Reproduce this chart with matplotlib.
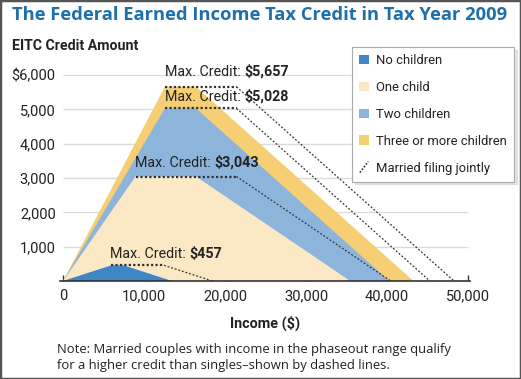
import matplotlib
matplotlib.use("Agg")
import matplotlib.pyplot as plt
import matplotlib.font_manager as fm
from matplotlib.patches import Patch, Rectangle
from matplotlib.lines import Line2D
from matplotlib.legend_handler import HandlerBase

# ---------------- data ----------------
series = ["No children", "One child", "Two children", "Three or more children"]
max_credit = [457, 3043, 5028, 5657]
phase_in_end = [5970, 8950, 12570, 12570]
phaseout_start_single = [7470, 16420, 16420, 16420]
phaseout_end_single = [13440, 35463, 40295, 43279]
phaseout_start_married = [12470, 21420, 21420, 21420]
phaseout_end_married = [18440, 40463, 45295, 48279]
label_values = ["$457", "$3,043", "$5,028", "$5,657"]
x_ticks = [0, 10000, 20000, 30000, 40000, 50000]
x_tick_labels = ["0", "10,000", "20,000", "30,000", "40,000", "50,000"]
y_ticks = [1000, 2000, 3000, 4000, 5000, 6000]
y_tick_labels = ["1,000", "2,000", "3,000", "4,000", "5,000", "$6,000"]

colors = ["#3f86c6", "#fbe8c4", "#8db5db", "#f6ce73"]

# ---------------- fonts ----------------
FR = fm.FontProperties(family="Roboto")
FB = fm.FontProperties(family="Roboto", weight="bold")


def fp(base, size):
    p = base.copy()
    p.set_size(size)
    return p


# ---------------- figure ----------------
fig = plt.figure(figsize=(5.21, 3.79), dpi=100)
ax = fig.add_axes([0.1148, 0.2586, 0.788, 0.5707])
ax.set_xlim(-400, 50300)
ax.set_ylim(0, 6300)

# gridlines
ax.hlines(y_ticks, 0, 50000, colors="#dcdcdc", lw=1, zorder=1)

# filled areas (largest first)
for i in [3, 2, 1, 0]:
    xs = [0, phase_in_end[i], phaseout_start_single[i], phaseout_end_single[i]]
    ys = [0, max_credit[i], max_credit[i], 0]
    ax.fill(xs, ys, color=colors[i], lw=0, zorder=2 + (3 - i))

# married filing jointly dotted lines
for i in range(4):
    ax.plot([phase_in_end[i], phaseout_start_married[i]], [max_credit[i], max_credit[i]],
            color="#333333", lw=1.6, ls=(0, (1, 1)), zorder=7)
    ax.plot([phaseout_start_married[i], phaseout_end_married[i]], [max_credit[i], 0],
            color="#333333", lw=0.9, ls=(0, (1.5, 1.5)), zorder=7)

# labels
label_pos = [(5800, 790), (8900, 3440), (12550, 5360), (12550, 6090)]
for i in range(4):
    t1 = ax.text(label_pos[i][0], label_pos[i][1], "Max. Credit: ", fontproperties=fp(FR, 10.3),
                 va="center", ha="left", color="#222222", zorder=8)
    ax.annotate(label_values[i], xy=(1, 0), xycoords=t1, va="bottom", ha="left",
                fontproperties=fp(FB, 10.3), color="#222222", zorder=8)

# axes styling
for s in ["top", "right", "left"]:
    ax.spines[s].set_visible(False)
ax.spines["bottom"].set_color("#333333")
ax.spines["bottom"].set_linewidth(1.2)
ax.spines["bottom"].set_zorder(9)
ax.set_xticks(x_ticks)
ax.set_xticklabels(x_tick_labels, fontproperties=fp(FR, 10.5), color="#222222")
ax.set_yticks(y_ticks)
ax.set_yticklabels(y_tick_labels, fontproperties=fp(FR, 10.5), color="#222222")
ax.tick_params(axis="x", direction="in", length=4, width=1, color="#333333", pad=6)
ax.tick_params(axis="y", length=0, pad=3)
ax.set_facecolor("none")


# legend
class DiagHandler(HandlerBase):
    def create_artists(self, legend, orig_handle, xdescent, ydescent, width, height, fontsize, trans):
        cx = width / 2 - xdescent
        cy = height / 2 - ydescent
        ln = Line2D([cx - 3, cx + 3], [cy - 4, cy + 4], color="#333333", lw=1.2,
                    ls=(0, (1, 1)), transform=trans)
        return [ln]


handles = [Patch(facecolor=colors[i], edgecolor="none") for i in range(4)]
married_handle = Line2D([], [])
handles.append(married_handle)
labels = series + ["Married filing jointly"]
leg = fig.legend(handles, labels, loc="upper left", bbox_to_anchor=(352 / 521, 1 - 47 / 379),
                 bbox_transform=fig.transFigure, borderaxespad=0, frameon=True, fancybox=False,
                 shadow={"color": "#cccccc", "ox": 2, "oy": -2}, edgecolor="#aaaaaa",
                 prop=fp(FR, 9.4), handlelength=0.75, handleheight=0.75, handletextpad=0.55,
                 labelspacing=1.06, borderpad=0.55, handler_map={married_handle: DiagHandler()})
leg.get_frame().set_linewidth(0.8)
for t in leg.get_texts():
    t.set_color("#222222")

# titles and notes
fig.text(12 / 521, 1 - 15 / 379, "The Federal Earned Income Tax Credit in Tax Year 2009",
         fontproperties=fm.FontProperties(family="Open Sans", weight="bold", size=13.2),
         color="#1f6fab", va="center", ha="left")
fig.text(12 / 521, 1 - 46 / 379, "EITC Credit Amount", fontproperties=fp(FB, 10.2),
         color="#222222", va="center", ha="left")
fig.text(265 / 521, 1 - 323 / 379, "Income ($)", fontproperties=fp(FB, 10.4),
         color="#222222", va="center", ha="center")
note_font = fm.FontProperties(family="Open Sans", size=9.4)
fig.text(57 / 521, 1 - 350 / 379,
         "Note: Married couples with income in the phaseout range qualify",
         fontproperties=note_font, color="#222222", va="center", ha="left")
fig.text(57 / 521, 1 - 366 / 379,
         "for a higher credit than singles\u2013shown by dashed lines.",
         fontproperties=note_font, color="#222222", va="center", ha="left")

# figure border
fig.patches.append(Rectangle((0, 0), 1, 1, transform=fig.transFigure, fill=False,
                             lw=2.5, edgecolor="#555555", zorder=10))

fig.savefig("out.png", dpi=100)
